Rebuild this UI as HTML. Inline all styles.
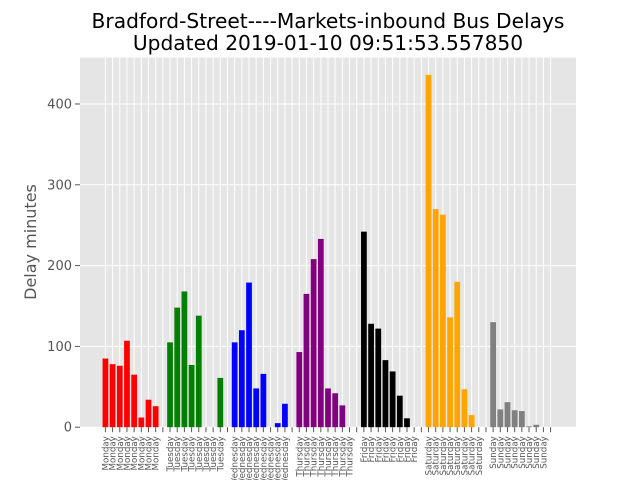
<!DOCTYPE html>
<html><head><meta charset="utf-8"><style>
body{margin:0;background:#fff}
svg text{font-family:"DejaVu Sans","Liberation Sans",sans-serif}
</style></head><body>
<svg id="chart" width="640" height="480" xmlns="http://www.w3.org/2000/svg">
<rect x="0" y="0" width="640" height="480" fill="#fff"/>
<rect x="80" y="57.6" width="496" height="369.6" fill="#e5e5e5"/>
<g id="grid"></g><g id="bars"></g><g id="axes"></g>
<text x="328" y="28" font-size="20.2" text-anchor="middle" fill="#000">Bradford-Street----Markets-inbound Bus Delays</text>
<text x="328" y="50" font-size="20.2" text-anchor="middle" fill="#000">Updated 2019-01-10 09:51:53.557850</text>
<text transform="translate(36,242) rotate(-90)" font-size="16" text-anchor="middle" fill="#555">Delay minutes</text>
</svg>
<script>
const days = ["Monday","Tuesday","Wednesday","Thursday","Friday","Saturday","Sunday"];
const colors = ["red","green","blue","purple","black","orange","gray"];
const monday = [85,78,76,107,65,12,34,26];
const tuesday = [105,148,168,77,138,0,0,61];
const wednesday = [105,120,179,48,66,0,5,29];
const thursday = [93,165,208,233,48,42,27,0];
const friday = [242,128,122,83,69,39,11,0];
const saturday = [436,270,263,136,180,47,15,0];
const sunday = [130,22,31,21,20,1,3,0];
const yTicks = [0,100,200,300,400];
const series = [monday,tuesday,wednesday,thursday,friday,saturday,sunday];
const NS="http://www.w3.org/2000/svg";
const L=80,R=576,T=57.6,B=427.2;
const nTicks=63;
const xmin=-3.54, xmax=65.54;
const ymax=457.4;
const xs=i=>L+(i-xmin)/(xmax-xmin)*(R-L);
const ys=v=>B-v/ymax*(B-T);
function mk(tag,attrs,parent){const e=document.createElementNS(NS,tag);for(const k in attrs)e.setAttribute(k,attrs[k]);parent.appendChild(e);return e;}
const grid=document.getElementById('grid'),bars=document.getElementById('bars'),axes=document.getElementById('axes');
for(let i=0;i<nTicks;i++){
  const x=xs(i);
  const g=mk('line',{x1:x,x2:x,y1:T,y2:B,stroke:'#fff','stroke-width':1},grid);
  
  
  const t=mk('line',{x1:x,x2:x,y1:B,y2:B+5,stroke:'#555','stroke-width':1},axes);
  
  
  const d=Math.floor(i/9), k=i%9;
  if(k<8){
    const lb=mk('text',{transform:`translate(${x+3},${B+9}) rotate(-90)`,'font-size':8.7,'text-anchor':'end',fill:'#555'},axes);
    lb.textContent=days[d];
    
    
    const v=series[d][k];
    if(v>0){
      const w=0.8*(R-L)/(xmax-xmin);
      const b=mk('rect',{x:x-w/2,y:ys(v),width:w,height:B-ys(v),fill:colors[d]},bars);
      
      
    }
  }
}
yTicks.forEach(v=>{
  const y=ys(v);
  const g=mk('line',{x1:L,x2:R,y1:y,y2:y,stroke:'#fff','stroke-width':1},grid);
  
  
  const t=mk('line',{x1:L-5,x2:L,y1:y,y2:y,stroke:'#555','stroke-width':1},axes);
  
  
  const lb=mk('text',{x:L-8,y:y+4.5,'font-size':13,'text-anchor':'end',fill:'#555'},axes);
  lb.textContent=v;
  
  
});
</script>
</body></html>
